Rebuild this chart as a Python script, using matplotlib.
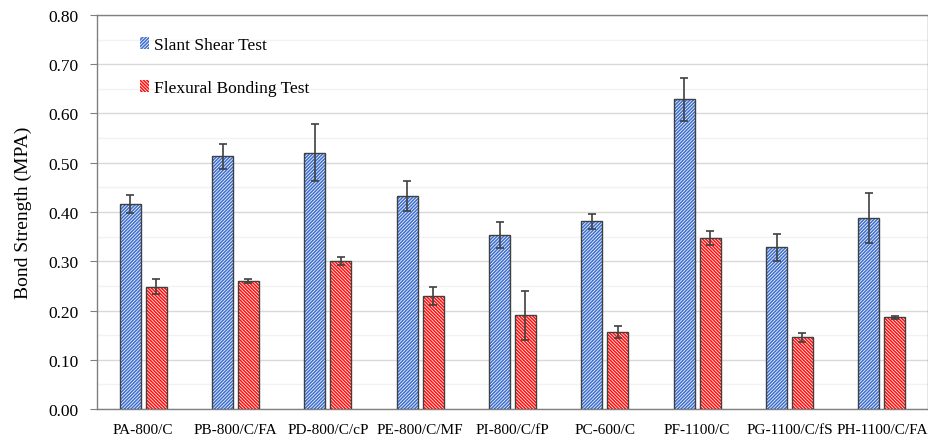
import matplotlib.pyplot as plt
import numpy as np
from matplotlib.ticker import MultipleLocator

plt.rcParams['font.family'] = ['Liberation Serif', 'DejaVu Serif']
plt.rcParams['hatch.linewidth'] = 1.15

specimens = ["PA-800/C", "PB-800/C/FA", "PD-800/C/cP", "PE-800/C/MF", "PI-800/C/fP",
             "PC-600/C", "PF-1100/C", "PG-1100/C/fS", "PH-1100/C/FA"]
slant = [0.416, 0.513, 0.520, 0.433, 0.353, 0.381, 0.629, 0.328, 0.388]
slant_err = [0.018, 0.025, 0.058, 0.030, 0.026, 0.015, 0.044, 0.027, 0.050]
flexural = [0.248, 0.259, 0.300, 0.230, 0.190, 0.156, 0.347, 0.146, 0.186]
flexural_err = [0.015, 0.004, 0.008, 0.018, 0.050, 0.012, 0.014, 0.009, 0.003]

blue = "#3F6FD0"
red = "#FF1010"
edge = "#404040"

fig = plt.figure(figsize=(9.29, 4.39), dpi=100)
ax = fig.add_axes([0.1044, 0.066, 0.8946, 0.8976])

x = np.arange(len(specimens))
w = 0.227
off = 0.14

# pattern fill: coloured stripes on white, outline drawn separately
for xs, vals, errs, col, hatch, lab in [
        (x - off, slant, slant_err, blue, "/" * 10, "Slant Shear Test"),
        (x + off, flexural, flexural_err, red, "\\" * 10, "Flexural Bonding Test")]:
    ax.bar(xs, vals, w, color="white", edgecolor=col, hatch=hatch, linewidth=0, zorder=3, label=lab)
    ax.bar(xs, vals, w, fill=False, edgecolor=edge, linewidth=1.0, zorder=4)
    ax.errorbar(xs, vals, yerr=errs, fmt="none", ecolor=edge, elinewidth=1.2,
                capsize=3, capthick=1.2, zorder=5)

ax.set_xlim(-0.5, len(specimens) - 0.5)
ax.set_ylim(0, 0.8)
ax.yaxis.set_major_locator(MultipleLocator(0.1))
ax.yaxis.set_minor_locator(MultipleLocator(0.05))
ax.yaxis.set_major_formatter(lambda v, p: f"{v:.2f}")
ax.grid(which="major", axis="y", color="#d9d9d9", linewidth=1.0, zorder=0)
ax.grid(which="minor", axis="y", color="#f2f2f2", linewidth=1.0, zorder=0)
ax.set_axisbelow(True)

ax.set_xticks(x)
ax.set_xticklabels(specimens, fontsize=11)
ax.tick_params(axis="x", length=0, pad=10)
ax.tick_params(axis="y", which="major", labelsize=12.5, length=5, color="#808080", pad=8)
ax.tick_params(axis="y", which="minor", length=0)
for s in ax.spines.values():
    s.set_color("#808080")
    s.set_linewidth(1.0)

ax.set_ylabel("Bond Strength (MPA)", fontsize=14, labelpad=12)

ax.legend(loc="upper left", bbox_to_anchor=(0.033, 0.985), frameon=False, fontsize=12.5,
          handlelength=0.5, handleheight=0.7, handletextpad=0.3, labelspacing=1.55)

fig.savefig("out.png", dpi=100)
